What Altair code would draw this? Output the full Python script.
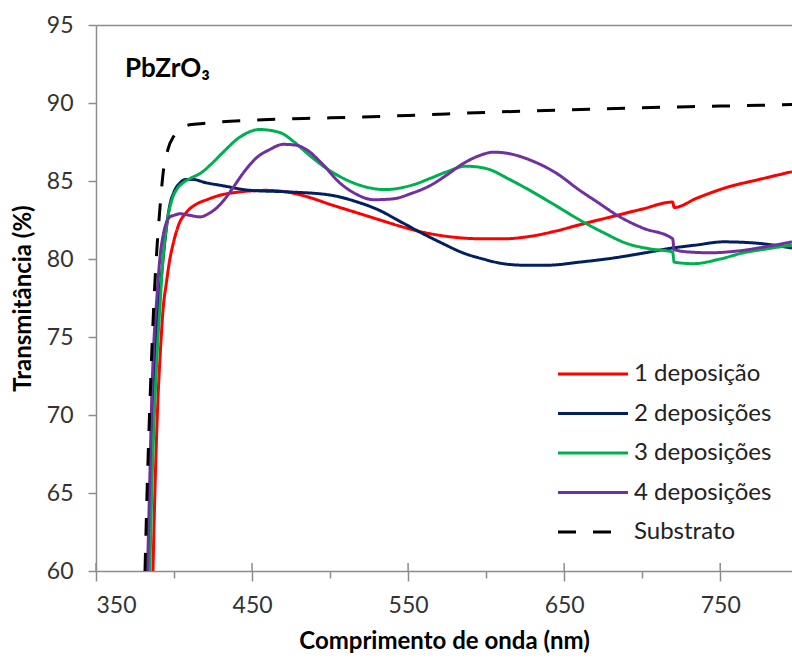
import altair as alt
import pandas as pd

series_names = ["1 deposição", "2 deposições", "3 deposições", "4 deposições", "Substrato"]
series_colors = ["#FF0000", "#002060", "#00B050", "#7030A0", "#000000"]

red_x = [386.5, 388, 389.7, 391.5, 393, 395, 397, 399.5, 403, 408, 414, 421, 430, 442, 459, 472, 485,
         500, 516, 532, 545, 558, 575, 596, 612, 628, 645, 660, 680, 700, 719.5, 720.5, 735, 754.5, 775, 796]
red_y = [60, 66, 71, 74.5, 76.8, 78.4, 79.8, 81.0, 82.2, 83.0, 83.5, 83.8, 84.1, 84.3, 84.4, 84.3, 84.0,
         83.5, 83.0, 82.5, 82.1, 81.75, 81.45, 81.3, 81.3, 81.45, 81.8, 82.2, 82.7, 83.2, 83.65, 83.3, 83.9, 84.6, 85.1, 85.6]

blue_x = [383.5, 385, 386.5, 388, 390, 392, 394, 397, 400, 404, 408, 412, 420, 431, 449, 474, 500, 516,
          532, 545, 558, 572, 585, 598, 611, 625, 639, 660, 684, 702, 719, 735, 752, 775, 796]
blue_y = [60, 66, 71, 74.5, 77, 79, 81, 83.3, 84.3, 84.9, 85.1, 85.1, 84.9, 84.7, 84.4, 84.3, 84.1, 83.7,
          83.1, 82.4, 81.7, 81.0, 80.4, 80.0, 79.7, 79.6, 79.6, 79.8, 80.1, 80.4, 80.7, 80.9, 81.1, 81.0, 80.7]

green_x = [384.5, 386, 387.8, 389.5, 391, 393, 395, 398.7, 402, 406, 411, 417, 424, 431, 442, 455, 468, 477,
           485, 495, 506, 520, 535, 553, 565, 575, 587, 600, 615, 628, 645, 660, 675, 690, 705,
           719.5, 720.5, 733, 750, 765, 780, 796]
green_y = [60, 66, 71, 74.5, 77, 80.1, 82, 83.8, 84.5, 84.9, 85.2, 85.5, 86.1, 86.8, 87.8, 88.3, 88.1, 87.5,
           86.8, 86.0, 85.3, 84.7, 84.45, 84.75, 85.2, 85.6, 85.95, 85.8, 85.1, 84.4, 83.4, 82.5, 81.7, 81.0, 80.65,
           80.45, 79.8, 79.7, 80.0, 80.4, 80.65, 80.9]

purple_x = [383, 384.5, 385.7, 387, 389, 391, 393, 395, 397.4, 400, 404, 410, 416.7, 422, 427.6, 433, 438,
            445, 453, 461, 470, 478, 485, 495, 506, 516, 528, 540, 552, 564, 575, 585, 595, 605, 615,
            628, 645, 660, 672, 684, 700, 719.5, 720.5, 730, 743.6, 760, 780, 796]
purple_y = [60, 66, 71, 74.5, 77.5, 80.1, 81.5, 82.3, 82.7, 82.8, 82.9, 82.8, 82.7, 82.9, 83.3, 83.9, 84.6,
            85.6, 86.5, 87.0, 87.35, 87.3, 87.0, 86.1, 84.9, 84.2, 83.8, 83.85, 84.2, 84.7, 85.4, 86.1, 86.6, 86.85, 86.75,
            86.35, 85.5, 84.4, 83.6, 82.8, 82.0, 81.3, 80.6, 80.45, 80.4, 80.5, 80.8, 81.1]

sub_x = [381.4, 383, 385, 387, 389, 391, 393, 396, 400, 405, 410, 420, 431, 450, 500, 550, 600, 650, 700, 750, 796]
sub_y = [60, 66, 72, 77, 80.6, 83.3, 85.5, 87.0, 87.9, 88.4, 88.6, 88.7, 88.8, 88.9, 89.05, 89.2, 89.4, 89.55, 89.7, 89.8, 89.9]

x_ticks = [350, 400, 450, 500, 550, 600, 650, 700, 750]
x_major = [350, 450, 550, 650, 750]
y_ticks = [60, 65, 70, 75, 80, 85, 90, 95]

rows = []
for name, xs, ys in zip(series_names, [red_x, blue_x, green_x, purple_x, sub_x],
                        [red_y, blue_y, green_y, purple_y, sub_y]):
    for i, (a, b) in enumerate(zip(xs, ys)):
        rows.append({"serie": name, "wl": a, "T": b, "i": i})
df = pd.DataFrame(rows)
major_df = pd.DataFrame({"wl": x_major})

FONT = "Lato"

x_scale = alt.Scale(domain=[350, 796], nice=False, zero=False)
y_scale = alt.Scale(domain=[60, 95], nice=False, zero=False)

leg = alt.Legend(title=None, orient="none", legendX=485, legendY=337,
                 symbolType="M-10,0H10", symbolSize=49, symbolStrokeWidth=3.5,
                 labelFontSize=24, labelFont=FONT, labelColor="#222222",
                 labelOffset=29, rowPadding=15.5, padding=0)

lines = alt.Chart(df).mark_line(clip=True, interpolate="monotone").encode(
    x=alt.X("wl:Q", scale=x_scale,
            axis=alt.Axis(values=x_ticks, title="Comprimento de onda (nm)",
                          labelExpr="(datum.value - 350) % 100 == 0 ? datum.label : ''",
                          grid=False, tickSize=alt.expr("(datum.value - 350) % 100 == 0 ? 10 : 7"),
                          labelPadding=13,
                          titleX=348, titleY=70, titleBaseline="middle")),
    y=alt.Y("T:Q", scale=y_scale,
            axis=alt.Axis(values=y_ticks, title="Transmitância (%)", tickSize=8, labelPadding=15,
                          grid=True, gridOpacity=alt.expr("datum.value == 95 ? 1 : 0"),
                          titleX=-73, titleY=273, titleAngle=-90, titleBaseline="middle")),
    color=alt.Color("serie:N", scale=alt.Scale(domain=series_names, range=series_colors), legend=leg),
    strokeDash=alt.StrokeDash("serie:N", scale=alt.Scale(domain=series_names,
                              range=[[1, 0], [1, 0], [1, 0], [1, 0], [18, 17]]), legend=leg),
    strokeWidth=alt.StrokeWidth("serie:N", scale=alt.Scale(domain=series_names, range=[3, 3, 3, 3, 4.8]),
                                legend=None),
    order="i:Q",
)

inner_ticks = alt.Chart(major_df).mark_rule(color="#8c8c8c", strokeWidth=1.5).encode(
    x=alt.X("wl:Q", scale=x_scale),
    y=alt.value(538), y2=alt.value(546),
)

chart = alt.layer(inner_ticks, lines).properties(
    width=696, height=546,
    autosize=alt.AutoSizeParams(type="none"),
    padding={"left": 96, "top": 25, "right": 0, "bottom": 89},
    title=alt.Title("PbZrO₃", anchor="start", frame="group", orient="top", offset=0,
                    dx=29, dy=89, baseline="alphabetic", font=FONT, fontSize=26,
                    fontWeight="bold", color="#000000"),
).configure_view(stroke=None).configure_axis(
    domainColor="#8c8c8c", tickColor="#8c8c8c", gridColor="#8c8c8c",
    labelFont=FONT, labelFontSize=23, labelColor="#333333",
    titleFont=FONT, titleFontSize=24, titleFontWeight="bold", titleColor="#000000",
    domainWidth=1.5, tickWidth=1.5, gridWidth=1.5,
)

chart.save("out.html", embed_options={"renderer": "svg", "actions": False})
